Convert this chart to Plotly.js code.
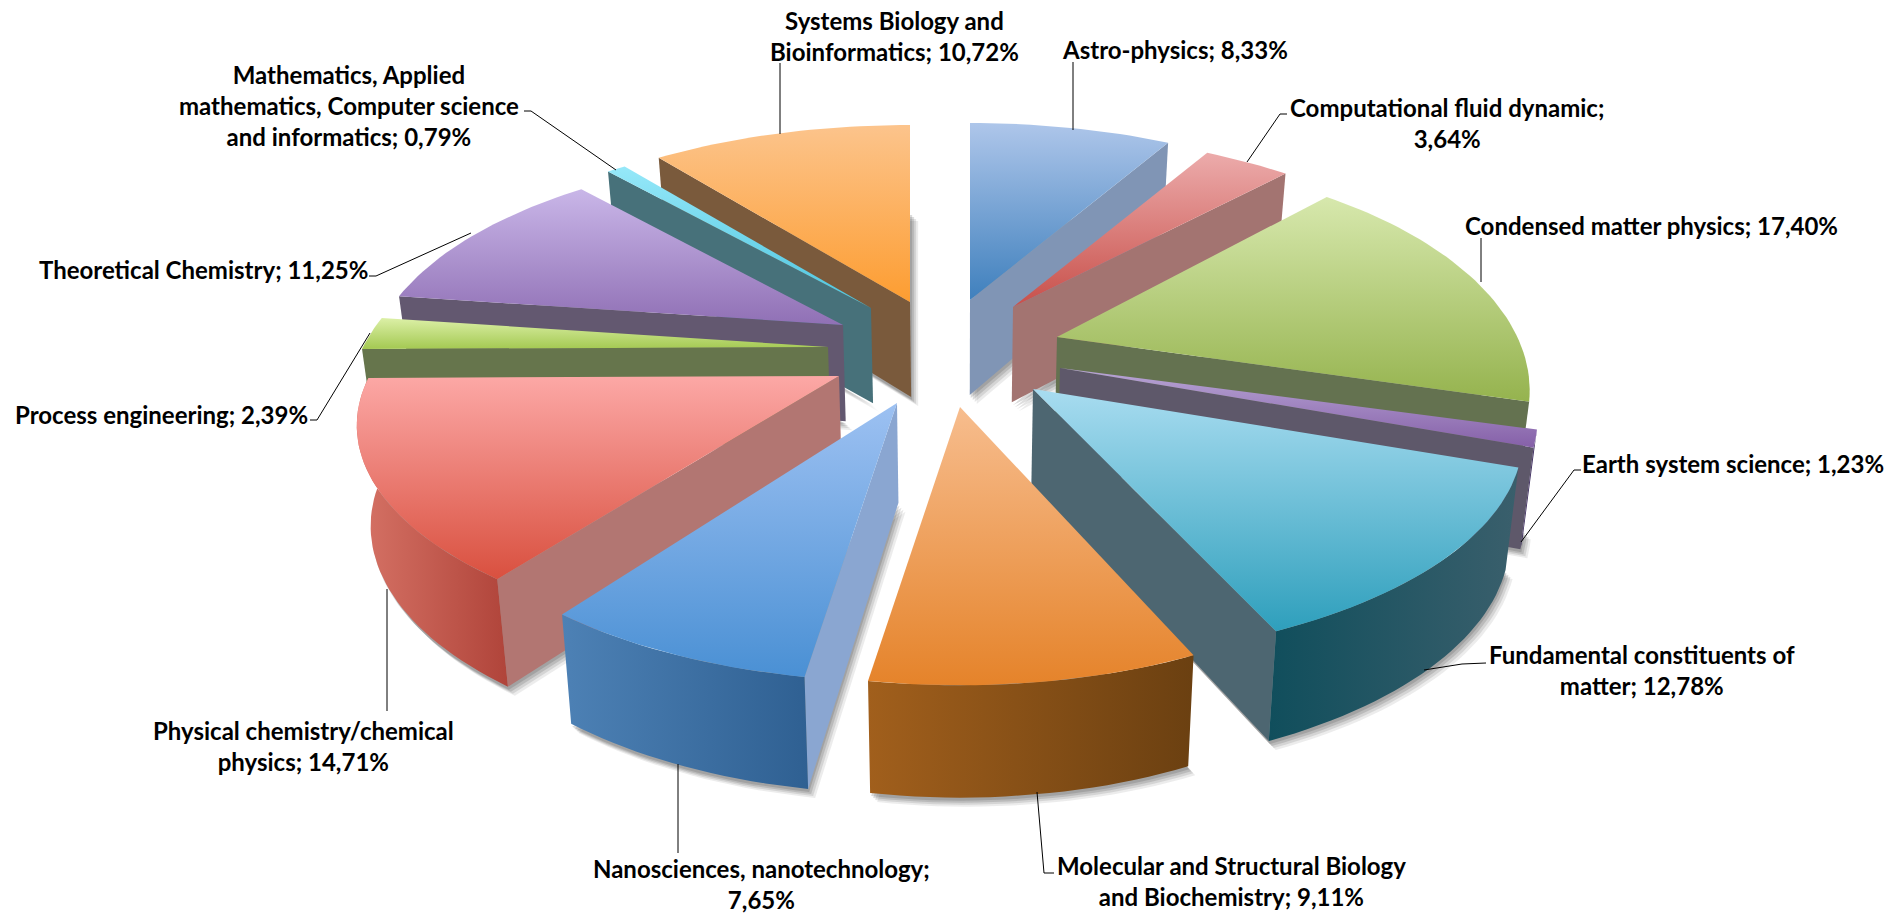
<!DOCTYPE html>
<html><head><meta charset="utf-8">
<script src="https://cdn.plot.ly/plotly-3.0.1.min.js"></script>
<style>html,body{margin:0;padding:0;background:#fff;overflow:hidden}#chart{width:1901px;height:917px}</style>
</head><body><div id="chart"></div>
<script>
// ---------- data ----------
const categories = ["Astro-physics","Computational fluid dynamic","Condensed matter physics","Earth system science","Fundamental constituents of matter","Molecular and Structural Biology and Biochemistry","Nanosciences, nanotechnology","Physical chemistry/chemical physics","Process engineering","Theoretical Chemistry","Mathematics, Applied mathematics, Computer science and informatics","Systems Biology and Bioinformatics"];
const shares = [8.33,3.64,17.40,1.23,12.78,9.11,7.65,14.71,2.39,11.25,0.79,10.72];

// ---------- styles: exploded slice apex, colours, label placement ----------
const apexX = [970,1013,1057,1060,1033,960,897,839,828,843,871,910];
const apexY = [300,307,337,368,389,407,403,376,347,325,308,302];
const radiusScaleX = [1.02,1,0.99,1,1.025,0.985,0.99,1.01,1,0.995,1,1.02];
const radiusScaleY = [1.02,1,1.05,1,0.985,1.01,1.01,0.97,1,0.995,1,1.02];
const hasRim = [false,false,false,true,true,true,true,true,false,false,false,false];
const topLight = ["#aec6ea","#ecabab","#d7e8ad","#b9a6d6","#a8dcf0","#f7bd8e","#9dc1f2","#fca8a6","#dcf0a7","#c9b6e8","#96e8f9","#fcc48c"];
const topDark  = ["#3f80bd","#c8504a","#95b34e","#8560a8","#2e9fbc","#e5832a","#4a90d4","#d9503f","#a4c952","#9070b5","#4cc4de","#fd9d31"];
const radial   = ["#8095b5","#a37471","#647250","#5e586a","#4d6671","#6b4011","#8aa6d1","#b27672","#66754c","#635870","#47717a","#7a5a3c"];
const rimLeft  = ["#2f6092","#a3403a","#7f9645","#3f2e5f","#104e5c","#a15f1c","#4d81b5","#d67366","#7f9645","#635870","#47717a","#7a5a3c"];
const rimRight = ["#2f6092","#a3403a","#647250","#3f2e5f","#3a5f6c","#6b4011","#2f6092","#b0443a","#7f9645","#635870","#47717a","#7a5a3c"];
const paintOrder = [11,0,10,1,9,2,8,3,7,4,6,5];
const labelBreaks = [[],[3],[],[],[3],[4],[2],[2],[],[],[2,5],[3]];
const labelX = [1175,1447,1651,1733,1642,1231,761,303,161,203,349,894];
const labelY = [49,107,225,463,654,865,868,730,414,269,74,20];
const leaderPaths = [
 "M1073,62 L1073,130","M1287,114 L1280,114 L1247,162","M1481,238 L1481,282","M1581,470 L1574,470 L1521,542",
 "M1486,663 L1462,664 L1424,670","M1054,873 L1044,873 L1037,792","M678,764 L678,853","M387,589 L387,711",
 "M310,420 L317,420 L370,333","M369,276 L376,276 L471,233","M524,111 L531,111 L616,170","M780,63 L780,134"];

// ---------- perspective model of the 3-D pie ----------
const RX = 465, RY = 213, PERSP = 0.227, CX = 960;
function topPoint(i, deg) {
  const t = deg * Math.PI / 180, w = 1 + PERSP * Math.cos(t);
  return [apexX[i] + radiusScaleX[i] * RX * Math.sin(t) / w, apexY[i] - radiusScaleY[i] * RY * Math.cos(t) / w];
}
function drop(p) {
  const h = 95 + (p[1] - 300) * 0.045;
  return [p[0] + (CX - p[0]) * 0.023, p[1] + h];
}
function arc(i, a, b) {
  const n = Math.max(3, Math.ceil((b - a) / 1.5)), out = [];
  for (let k = 0; k <= n; k++) out.push(topPoint(i, a + (b - a) * k / n));
  return out;
}
function poly(pts, extra) {
  const c = pts.concat([pts[0]]);
  return Object.assign({type:"scatter", mode:"lines", x:c.map(p=>p[0]), y:c.map(p=>p[1]),
    fill:"toself", line:{width:0}, showlegend:false, hoverinfo:"skip"}, extra);
}
function range(pts, idx){const v=pts.map(p=>p[idx]);return [Math.min(...v),Math.max(...v)];}

let acc = 0;
const startDeg = [], endDeg = [];
shares.forEach(v => { startDeg.push(acc * 3.6); acc += v; endDeg.push(acc * 3.6); });

const shadowTraces = [], traces = [];
shares.forEach((v,i) => {
  const a = arc(i,startDeg[i],endDeg[i]).map(drop);
  const base = [drop([apexX[i],apexY[i]])].concat(a);
  [[7,9,.10],[5,7,.14],[3,5,.18],[1,3,.2]].forEach(s => {
    shadowTraces.push(poly(base.map(p=>[p[0]+s[0],p[1]+s[1]]), {fillcolor:`rgba(70,70,70,${s[2]})`}));
  });
});
paintOrder.forEach(i => {
  const A = [apexX[i],apexY[i]], s = startDeg[i], e = endDeg[i];
  const rim = arc(i,s,e);
  const norm = d => ((d%360)+360)%360;
  // visible radial wall
  const startVisible = norm(s) > 180, endVisible = norm(e) > 0 && norm(e) < 180;
  if (startVisible) {
    const o = rim[0];
    traces.push(poly([A,o,drop(o),drop(A)], {fillcolor:radial[i]}));
  }
  if (endVisible) {
    const o = rim[rim.length-1];
    traces.push(poly([A,o,drop(o),drop(A)], {fillcolor:radial[i]}));
  }
  // curved outer wall for slices facing the viewer
  if (hasRim[i]) {
    const top = arc(i,s,e), bot = top.map(drop).reverse();
    const all = top.concat(bot), xr = range(all,0);
    traces.push(poly(all, {fillgradient:{type:"horizontal", start:xr[0], stop:xr[1],
      colorscale:[[0,rimLeft[i]],[1,rimRight[i]]]}}));
  }
  // top face
  const face = [A].concat(rim), yr = range(face,1);
  traces.push(poly(face, {fillgradient:{type:"vertical", start:yr[0], stop:yr[1],
    colorscale:[[0,topLight[i]],[1,topDark[i]]]}, name:categories[i], text:`${categories[i]}: ${shares[i]}%`, hoverinfo:"text", hoveron:"fills"}));
});

function labelText(i) {
  const words = `${categories[i]}; ${shares[i].toFixed(2).replace(".",",")}%`.split(" ");
  return words.map((w,k)=> (labelBreaks[i].includes(k) ? "<br>" : (k? " ":"")) + w).join("");
}
const annotations = categories.map((c,i) => ({x:labelX[i], y:labelY[i]-16, xref:"x", yref:"y", text:labelText(i), showarrow:false,
    xanchor:"center", yanchor:"top", align:"center", font:{family:"Lato, Carlito, sans-serif", size:24, color:"#000", weight:700}}));
const shapes = leaderPaths.map(p => ({type:"path", path:p, xref:"x", yref:"y", line:{color:"#000", width:1}}));

Plotly.newPlot("chart", shadowTraces.concat(traces), {
  width:1901, height:917, margin:{l:0,r:0,t:0,b:0}, paper_bgcolor:"#fff", plot_bgcolor:"#fff", showlegend:false,
  xaxis:{range:[0,1901], visible:false, fixedrange:true},
  yaxis:{range:[917,0], visible:false, fixedrange:true},
  annotations, shapes, hovermode:"closest"
}, {displayModeBar:false});
</script></body></html>
